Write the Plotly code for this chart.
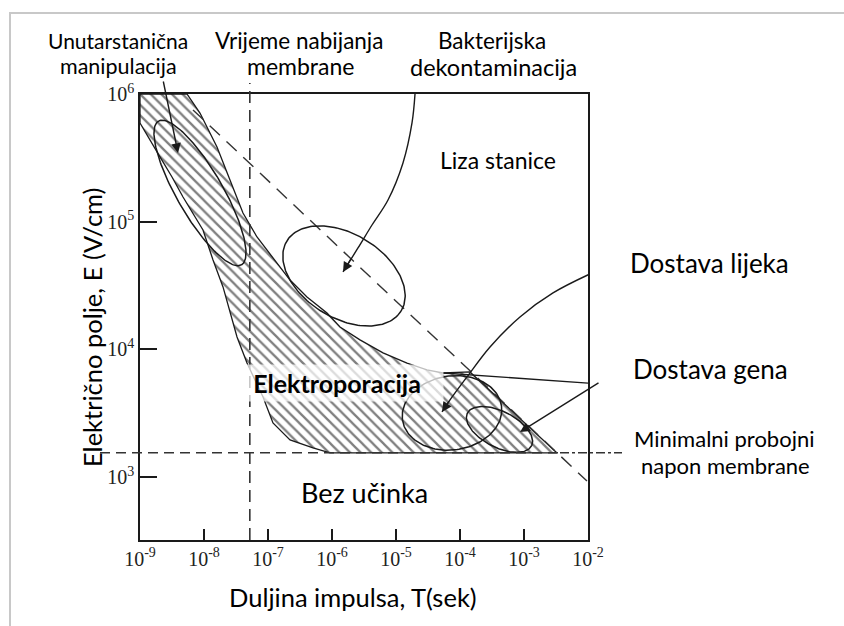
import numpy as np
import plotly.graph_objects as go

# ---------------- data ----------------
x_tick_vals = [1e-9, 1e-8, 1e-7, 1e-6, 1e-5, 1e-4, 1e-3, 1e-2]
x_tick_text = ["10<sup>-9</sup>", "10<sup>-8</sup>", "10<sup>-7</sup>", "10<sup>-6</sup>",
               "10<sup>-5</sup>", "10<sup>-4</sup>", "10<sup>-3</sup>", "10<sup>-2</sup>"]
y_tick_vals = [1e3, 1e4, 1e5, 1e6]
y_tick_text = ["10<sup>3</sup>", "10<sup>4</sup>", "10<sup>5</sup>", "10<sup>6</sup>"]
x_range_log = [-9.0, -2.0]
y_range_log = [2.507, 6.0]

# electroporation region outline (log10 T [s], log10 E [V/cm])
region_log_t = [-9.000, -8.266, -8.063, -7.797, -7.594, -7.391, -7.172, -6.922, -6.656, -6.391,
                -6.078, -5.875, -5.563, -5.203, -4.828, -4.516, -4.266, -3.844, -2.484,
                -6.031, -6.297, -6.656, -6.922, -7.078, -7.203, -7.328, -7.484, -7.594,
                -7.703, -7.859, -8.016, -8.328, -8.500, -8.688, -8.844, -9.000, -9.000]
region_log_e = [6.000, 6.000, 5.851, 5.585, 5.327, 5.068, 4.880, 4.716, 4.543, 4.410,
                4.285, 4.175, 4.074, 3.972, 3.893, 3.839, 3.815, 3.823, 3.189,
                3.189, 3.228, 3.291, 3.424, 3.627, 3.760, 3.893, 4.097, 4.285,
                4.489, 4.700, 4.935, 5.193, 5.350, 5.507, 5.640, 5.773, 6.000]

t_charging = 5.2e-8          # membrane charging time
e_breakdown = 1.55e3         # minimal membrane breakdown field
diag_log_t = [-8.172, -2.016]
diag_log_e = [5.875, 2.969]

# application ellipses
ellipse_log_t = [-8.0625, -5.8125, -4.125, -3.383]
ellipse_log_e = [5.225, 4.575, 3.502, 3.373]
ellipse_a_px = [83, 67, 50, 36]
ellipse_b_px = [23, 42, 37, 18]
ellipse_angle = [60, 31.5, -8, 27]

# curved arrows
bact_log_t = [-4.703, -4.750, -4.891, -5.125, -5.375, -5.594, -5.828]
bact_log_e = [6.000, 5.773, 5.460, 5.170, 4.974, 4.794, 4.606]
drug_log_t = [-1.95, -2.547, -3.063, -3.531, -3.891, -4.156, -4.281]
drug_log_e = [4.595, 4.442, 4.254, 4.019, 3.784, 3.604, 3.510]
ptr_log_t = [-4.266, -2.0]
ptr_log_e = [3.815, 3.736]

# ---------------- layout constants ----------------
W, H = 844, 626
ML, MR, MT, MB = 140, 256, 94, 86
PW, PH = W - ML - MR, H - MT - MB
PX_DEC_X = PW / (x_range_log[1] - x_range_log[0])
PX_DEC_Y = PH / (y_range_log[1] - y_range_log[0])

def paper(px, py):
    return (px - ML) / PW, (H - MB - py) / PH

INK = "#1a1a1a"
SANS = "Lato"
SERIF = "Liberation Serif"

fig = go.Figure()

# hatched electroporation region
fig.add_trace(go.Scatter(
    x=np.power(10.0, region_log_t), y=np.power(10.0, region_log_e),
    mode="lines", fill="toself", fillcolor="rgba(0,0,0,0)",
    fillpattern=dict(shape="\\", size=7.5, solidity=0.3, fgcolor="#000", bgcolor="rgba(0,0,0,0)"),
    line=dict(color=INK, width=1.3), hoverinfo="skip", showlegend=False))

# diagonal dashed line
fig.add_trace(go.Scatter(
    x=np.power(10.0, diag_log_t), y=np.power(10.0, diag_log_e), mode="lines",
    line=dict(color="#333", width=1.4, dash="14px,9px"), hoverinfo="skip", showlegend=False))

# ellipses
theta = np.linspace(0, 2 * np.pi, 181)
for ct, ce, a, b, ang in zip(ellipse_log_t, ellipse_log_e, ellipse_a_px, ellipse_b_px, ellipse_angle):
    r = np.radians(ang)
    dx = a * np.cos(theta) * np.cos(r) - b * np.sin(theta) * np.sin(r)
    dy = a * np.cos(theta) * np.sin(r) + b * np.sin(theta) * np.cos(r)
    fig.add_trace(go.Scatter(
        x=np.power(10.0, ct + dx / PX_DEC_X), y=np.power(10.0, ce - dy / PX_DEC_Y),
        mode="lines", line=dict(color=INK, width=1.5), hoverinfo="skip", showlegend=False))

# curved arrow bodies and pointer line
for lt, le in [(bact_log_t, bact_log_e), (drug_log_t, drug_log_e), (ptr_log_t, ptr_log_e)]:
    fig.add_trace(go.Scatter(
        x=np.power(10.0, lt), y=np.power(10.0, le), mode="lines", line_shape="spline",
        line=dict(color=INK, width=1.4), hoverinfo="skip", showlegend=False))

# reference lines (shapes)
shapes = [
    dict(type="line", xref="x", yref="paper", x0=t_charging, x1=t_charging, y0=0, y1=paper(0, 83)[1],
         line=dict(color="#333", width=1.6, dash="12px,7px")),
    dict(type="line", xref="paper", yref="y", x0=paper(100, 0)[0], x1=paper(560, 0)[0],
         y0=e_breakdown, y1=e_breakdown, line=dict(color="#333", width=1.6, dash="10px,6px")),
    dict(type="line", xref="paper", yref="y", x0=paper(560, 0)[0], x1=paper(622, 0)[0],
         y0=e_breakdown, y1=e_breakdown, line=dict(color="#333", width=1.4, dash="dashdot")),
    # outer light frame
    dict(type="line", xref="paper", yref="paper", x0=paper(9, 0)[0], x1=paper(850, 0)[0],
         y0=paper(0, 13)[1], y1=paper(0, 13)[1], line=dict(color="#c8c8c8", width=2)),
    dict(type="line", xref="paper", yref="paper", x0=paper(10, 0)[0], x1=paper(10, 0)[0],
         y0=paper(0, 12)[1], y1=paper(0, 630)[1], line=dict(color="#c8c8c8", width=2)),
]

annotations = []
# arrow heads / straight arrows (log units on log axes)
arrow_style = dict(showarrow=True, arrowhead=2, arrowsize=1.4, arrowwidth=1.4, arrowcolor=INK,
                   text="", xref="x", yref="y", standoff=0)
annotations.append(dict(x=-8.406, y=5.538, ax=-15, ay=-73, **arrow_style))
annotations.append(dict(x=-3.0625, y=3.353, ax=80, ay=-50, **arrow_style))
annotations.append(dict(x=bact_log_t[-1], y=bact_log_e[-1], ax=9, ay=-15, **arrow_style))
annotations.append(dict(x=drug_log_t[-1], y=drug_log_e[-1], ax=8, ay=-12, **arrow_style))

def label(text, px, py, size, bold=False, font=SANS, **kw):
    xp, yp = paper(px, py)
    t = "<b>%s</b>" % text if bold else text
    annotations.append(dict(text=t, x=xp, y=yp, xref="paper", yref="paper", showarrow=False,
                            xanchor="center", yanchor="middle", borderpad=0,
                            font=dict(family=font, size=size, color="#000"), **kw))

label("Unutarstanična", 118, 41, 21)
label("manipulacija", 118, 66, 21.5)
label("Vrijeme nabijanja", 299, 41, 22.5)
label("membrane", 300, 66, 23)
label("Bakterijska", 492, 40.5, 22.5)
label("dekontaminacija", 493, 67, 23.5)
label("Liza stanice", 498, 160, 23)
label("Dostava lijeka", 709, 263, 26)
label("Dostava gena", 710, 369, 26)
label("Minimalni probojni", 724, 438, 22)
label("napon membrane", 725, 465, 22)
label("Bez učinka", 364, 492, 27)
label("Elektroporacija", 337, 383, 25, bold=True,
      bgcolor="rgba(255,255,255,0.72)", width=212, height=36)
label("Duljina impulsa, T(sek)", 353, 597, 25.5)
label("Električno polje, E (V/cm)", 92, 328, 25.5, textangle=-90)

axis_common = dict(type="log", showgrid=False, zeroline=False, showline=True, mirror=True,
                   linecolor=INK, linewidth=1.6, ticks="inside", tickwidth=1.5, tickcolor=INK,
                   tickfont=dict(family=SERIF, size=20, color="#222"))
fig.update_layout(
    width=W, height=H, margin=dict(l=ML, r=MR, t=MT, b=MB),
    paper_bgcolor="white", plot_bgcolor="white", showlegend=False,
    xaxis=dict(range=x_range_log, tickvals=x_tick_vals, ticktext=x_tick_text, ticklen=11,
               **axis_common),
    yaxis=dict(range=y_range_log, tickvals=y_tick_vals, ticktext=y_tick_text, ticklen=17,
               **axis_common),
    shapes=shapes, annotations=annotations,
)

fig.write_html("out.html", config={"displayModeBar": False},
               post_script="document.body.style.margin='0px';document.body.style.padding='0px';")
